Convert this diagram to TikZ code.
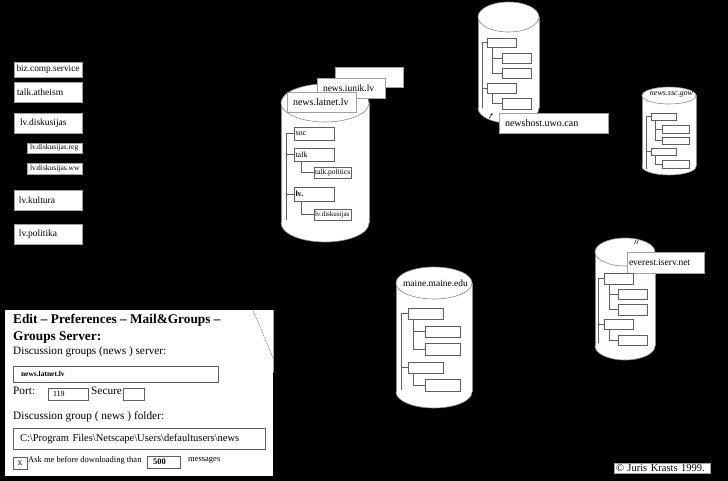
\documentclass[tikz,border=0pt]{standalone}
\usepackage{fontspec}
\setmainfont{Liberation Serif}
\usetikzlibrary{arrows.meta}
\definecolor{lgray}{HTML}{A0A0A0}
\definecolor{dgray}{HTML}{606060}
\definecolor{cylc}{HTML}{8C8C8C}
\newcommand{\fsz}[1]{\fontsize{#1}{#1}\selectfont}
\newcommand{\tb}[8][]{\node[tbx,minimum width={(#5-#3)*1pt},minimum height={(#6-#4)*1pt},text width={(#5-#3-2*#7)*1pt},inner xsep=#7pt,anchor=north west,#1] (#2) at (#3,#4) {#8};}
\newcommand{\cyl}[5]{%
 \path[fill=white,draw=cylc,line width=0.6pt] (#1,#4) ellipse[x radius=#2,y radius=#5];
 \path[fill=white] (#1-#2,#3) rectangle (#1+#2,#4);
 \draw[cylc,line width=0.6pt] (#1-#2,#3) -- (#1-#2,#4) (#1+#2,#3) -- (#1+#2,#4);
 \path[fill=white,draw=cylc,line width=0.6pt] (#1,#3) ellipse[x radius=#2,y radius=#5];}
\tikzset{
 tbx/.style={draw=lgray,fill=white,inner ysep=0pt,outer sep=0pt,line width=0.6pt,align=left,text=black},
 tre/.style={draw=dgray,line width=0.7pt},
 tl/.style={draw=dgray,line width=0.7pt},
 txt/.style={inner sep=0pt,anchor=west,text=black}
}
\begin{document}
\begin{tikzpicture}[x=1pt,y=-1pt]
\fill[black] (0,0) rectangle (728,481);
\useasboundingbox (0,0) rectangle (728,481);

% ---- left list of groups
\tb[font=\fsz{9.3}]{biz}{14}{62}{82}{77}{2.5}{biz.comp.service}
\tb[font=\fsz{9.5}]{atheism}{14}{82}{82}{102}{3}{talk.atheism}
\tb[font=\fsz{9.5}]{lvd}{14}{113}{82}{133}{6}{lv.diskusijas}
\tb[font=\fsz{7.5}]{lvdreg}{27}{143}{82}{153}{3}{lv.diskusijas.reg}
\tb[font=\fsz{7.5}]{lvdww}{27}{163}{82}{174}{3}{lv.diskusijas.ww}
\tb[font=\fsz{9.5}]{kult}{14}{190}{82}{210}{5}{lv.kultura}
\tb[font=\fsz{9.5}]{polit}{14}{224}{82}{244}{5}{lv.politika}

% ---- cylinder 1: news.latnet.lv
\cyl{325}{44}{103}{223}{19}
\tb{iunikback}{335}{67}{403}{87}{3}{}
\tb[font=\fsz{9.5}]{iunik}{317}{78}{385}{98}{6}{news.iunik.lv}
\tb[font=\fsz{10}]{latnet}{287}{92}{356}{112}{6}{news.latnet.lv}
\tb[tre,font=\fsz{8}]{soc}{294}{127}{334}{140}{1.5}{soc}
\tb[tre,font=\fsz{8}]{talk}{294}{148}{334}{161}{1.5}{talk}
\tb[tre,font=\fsz{7.5}]{politics}{314}{167}{351}{178}{1}{talk.politics}
\tb[tre,font=\fsz{8}\bfseries]{lvn}{294}{187}{334}{201}{1.5}{lv.}
\tb[tre,font=\fsz{7}]{lvdisk}{314}{209}{351}{220}{1}{lv.diskusijas}
\coordinate (lbot) at (286,220);
\coordinate (lbr) at (301,0);
\draw[tl] (soc.west) -| (lbot);
\draw[tl] (talk.west) -- (talk.west -| lbot);
\draw[tl] (lvn.west) -- (lvn.west -| lbot);
\draw[tl] (talk.south -| lbr) |- (politics.west);
\draw[tl] (lvn.south -| lbr) |- (lvdisk.west);

% ---- cylinder 2: newshost.uwo.can
\cyl{508.5}{30.5}{17}{108}{15}
\tb[tre]{ha1}{487}{38}{516}{47}{1}{}
\tb[tre]{hc1}{502}{53}{531}{63}{1}{}
\tb[tre]{hc2}{502}{68}{531}{78}{1}{}
\tb[tre]{ha2}{487}{83}{516}{93}{1}{}
\tb[tre]{hc3}{502}{98}{531}{109}{1}{}
\coordinate (hbot) at (482,108);
\coordinate (hbr) at (492,0);
\draw[tl] (ha1.west) -| (hbot);
\draw[tl] (ha2.west) -- (ha2.west -| hbot);
\draw[tl] (ha1.south -| hbr) |- (hc2.west);
\draw[tl] (hc1.west) -- (hc1.west -| hbr);
\draw[tl] (ha2.south -| hbr) |- (hc3.west);
\tb[font=\fsz{10}]{newshost}{499}{113}{608}{133}{6}{newshost.uwo.can}
\coordinate (harra) at (489,118.5);
\coordinate (harrb) at (492.5,113);
\draw[line width=0.5pt,-{Stealth[length=2.5pt,width=2.2pt]}] (harra) -- (harrb);

% ---- cylinder 3: news.ssc.gow
\cyl{669}{27}{95.5}{166.5}{8.5}
\node[txt,anchor=center,font=\fsz{8}\itshape] (ssc) at (671.5,94) {news.ssc.gow};
\tb[tre]{sa1}{651}{113}{676}{120}{1}{}
\tb[tre]{sc1}{662}{125}{689}{133}{1}{}
\tb[tre]{sc2}{662}{137}{689}{144}{1}{}
\tb[tre]{sa2}{651}{148}{676}{155}{1}{}
\tb[tre]{sc3}{662}{160}{689}{168}{1}{}
\coordinate (sbot) at (646,169);
\coordinate (sbr) at (655,0);
\draw[tl] (sa1.west) -| (sbot);
\draw[tl] (sa2.west) -- (sa2.west -| sbot);
\draw[tl] (sa1.south -| sbr) |- (sc2.west);
\draw[tl] (sc1.west) -- (sc1.west -| sbr);
\draw[tl] (sa2.south -| sbr) |- (sc3.west);

% ---- cylinder 4: everest.iserv.net
\cyl{625}{30}{252}{346}{14}
\coordinate (eva) at (634.5,244);
\coordinate (evb) at (636,240);
\coordinate (evc) at (636.8,244);
\coordinate (evd) at (638.3,240);
\draw[line width=0.5pt] (eva) -- (evb) (evc) -- (evd);
\tb[font=\fsz{9.5}]{everest}{627}{252}{704}{273}{2}{everest.iserv.net}
\tb[tre]{ea1}{604}{273}{633}{284}{1}{}
\tb[tre]{ec1}{618}{289}{647}{299}{1}{}
\tb[tre]{ec2}{618}{304}{647}{315}{1}{}
\tb[tre]{ea2}{604}{319}{633}{329}{1}{}
\tb[tre]{ec3}{618}{335}{647}{345}{1}{}
\coordinate (ebot) at (598,343);
\coordinate (ebr) at (609,0);
\draw[tl] (ea1.west) -| (ebot);
\draw[tl] (ea2.west) -- (ea2.west -| ebot);
\draw[tl] (ea1.south -| ebr) |- (ec2.west);
\draw[tl] (ec1.west) -- (ec1.west -| ebr);
\draw[tl] (ea2.south -| ebr) |- (ec3.west);

% ---- cylinder 5: maine.maine.edu
\cyl{434}{38}{283}{392}{16}
\node[txt,anchor=center,font=\fsz{9.5}] (maine) at (435.5,283) {maine.maine.edu};
\tb[tre]{ma1}{408}{308}{443}{319}{1}{}
\tb[tre]{mc1}{425}{326}{460}{337}{1}{}
\tb[tre]{mc2}{425}{343}{460}{355}{1}{}
\tb[tre]{ma2}{408}{362}{443}{373}{1}{}
\tb[tre]{mc3}{425}{379}{460}{391}{1}{}
\coordinate (mbot) at (401,390);
\coordinate (mbr) at (413,0);
\draw[tl] (ma1.west) -| (mbot);
\draw[tl] (ma2.west) -- (ma2.west -| mbot);
\draw[tl] (ma1.south -| mbr) |- (mc2.west);
\draw[tl] (mc1.west) -- (mc1.west -| mbr);
\draw[tl] (ma2.south -| mbr) |- (mc3.west);

% ---- settings panel
\node[fill=white,draw=none,inner sep=0pt,outer sep=0pt,minimum width=268pt,minimum height=166pt,anchor=north west] (panel) at (5,310) {};
\coordinate (curla) at (253,310);
\coordinate (curlb) at (273,358);
\coordinate (edgea) at (273,310);
\coordinate (edgeb) at (273,372);
\draw[gray,line width=0.6pt,dash pattern=on 1pt off 0.7pt] (curla) -- (curlb);
\draw[lgray,line width=0.8pt] (edgea) -- (edgeb);
\node[txt,font=\fsz{13.3}\bfseries] (title1) at (13,320) {Edit – Preferences – Mail\&Groups –};
\node[txt,font=\fsz{13.3}\bfseries] (title2) at (13,338) {Groups Server:};
\node[txt,font=\fsz{11.3}] (srvlbl) at (13,352) {Discussion groups (news ) server:};
\tb[tre,font=\fsz{7.5}\bfseries]{field}{13}{366}{218}{382}{8}{news.latnet.lv}
\node[txt,font=\fsz{11.3}] (port) at (13,391) {Port:};
\tb[tre,font=\fsz{8}]{portbox}{48}{388}{88}{400}{5}{119}
\node[txt,font=\fsz{11.3}] (secure) at (91,391) {Secure};
\tb[tre]{securebox}{123}{388}{144}{400}{1}{}
\node[txt,font=\fsz{11.3}] (folderlbl) at (13,417) {Discussion group ( news ) folder:};
\tb[tre,font=\fsz{10.5}]{folder}{13}{428}{265}{449}{7}{C:\textbackslash Program Files\textbackslash Netscape\textbackslash Users\textbackslash defaultusers\textbackslash news}
\tb[tre,font=\fsz{7},align=center]{xbox}{13}{457}{27}{469}{1}{X}
\node[txt,font=\fsz{8.5}] (ask) at (28,460) {Ask me before downloading than};
\tb[tre,font=\fsz{8.5}\bfseries]{dl}{147}{456}{180}{468}{6}{500}
\node[txt,font=\fsz{8.5}] (msgs) at (188,460) {messages};

% ---- copyright
\tb[font=\fsz{10.5}]{copy}{614}{463}{710}{473}{2}{© Juris Krasts 1999.}
\end{tikzpicture}
\end{document}
